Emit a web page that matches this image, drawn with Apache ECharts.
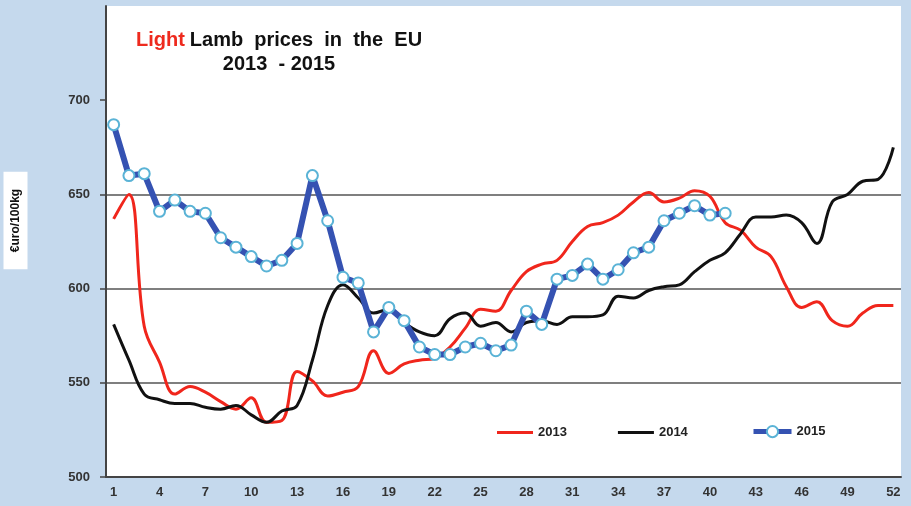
<!DOCTYPE html>
<html>
<head>
<meta charset="utf-8">
<script src="https://cdn.jsdelivr.net/npm/echarts@6/dist/echarts.min.js"></script>
<style>
  html, body { margin: 0; padding: 0; background: #c5d9ed; }
  #chart { width: 911px; height: 506px; }
</style>
</head>
<body>
<div id="chart"></div>
<script>
// weeks 1..52
var weeks = [];
for (var w = 1; w <= 52; w++) weeks.push(String(w));

var yTicks = [500, 550, 600, 650, 700];

var prices2013 = [637, 650, 580, 561, 544, 548, 545, 540, 536, 542, 529, 530,
  556, 551, 543, 545, 548, 567, 555, 560, 562, 563, 569, 579, 589, 588, 599,
  609, 613, 615, 625, 633, 635, 639, 646, 651, 646, 648, 652, 649, 635, 631,
  622, 617, 601, 590, 593, 583, 580, 587, 591, 591];

var prices2014 = [581, 562, 544, 541, 539, 539, 537, 536, 538, 533, 529, 535,
  538, 562, 591, 602, 595, 587, 589, 582, 577, 575, 584, 587, 580, 582, 577,
  582, 583, 581, 585, 585, 586, 596, 595, 599, 601, 602, 609, 615, 619, 629,
  638, 638, 639, 635, 624, 646, 650, 657, 658, 675];

var prices2015 = [687, 660, 661, 641, 647, 641, 640, 627, 622, 617, 612, 615,
  624, 660, 636, 606, 603, 577, 590, 583, 569, 565, 565, 569, 571, 567, 570,
  588, 581, 605, 607, 613, 605, 610, 619, 622, 636, 640, 644, 639, 640];

var myChart = echarts.init(document.getElementById('chart'));

var labelFont = { fontFamily: 'Liberation Sans', fontWeight: 'bold', fontSize: 13, color: '#333' };
var legendFont = { fontFamily: 'Liberation Sans', fontWeight: 'bold', fontSize: 13, color: '#222' };

option = {
    backgroundColor: '#c5d9ed',
    animation: false,
    title: {
        text: '{r|Light} {k|Lamb  prices  in  the  EU}\n{k|2013  - 2015}',
        left: 274,
        top: 23,
        textAlign: 'center',
        textStyle: {
            rich: {
                r: { color: '#ee2a1e', fontFamily: 'Liberation Sans', fontWeight: 'bold', fontSize: 20, lineHeight: 24 },
                k: { color: '#111', fontFamily: 'Liberation Sans', fontWeight: 'bold', fontSize: 20, lineHeight: 24 }
            }
        }
    },
    graphic: [
        {
            type: 'text',
            x: 15.5,
            y: 220.5,
            rotation: Math.PI / 2,
            style: {
                text: '€uro/100kg',
                fontFamily: 'Liberation Sans',
                fontWeight: 'bold',
                fontSize: 12,
                fill: '#111',
                align: 'center',
                verticalAlign: 'middle',
                backgroundColor: '#fff',
                padding: [6, 17]
            }
        }
    ],
    legend: [
        {
            left: 492,
            top: 421,
            icon: 'rect',
            itemWidth: 36,
            itemHeight: 3,
            itemGap: 51,
            textStyle: legendFont,
            data: ['2013', '2014']
        },
        {
            left: 746,
            top: 420,
            itemWidth: 38,
            itemHeight: 14,
            textStyle: legendFont,
            lineStyle: { width: 5 },
            data: ['2015']
        }
    ],
    grid: {
        left: 106,
        right: 10,
        top: 6,
        bottom: 29,
        show: true,
        backgroundColor: '#fff',
        borderWidth: 0
    },
    xAxis: {
        type: 'category',
        boundaryGap: true,
        data: weeks,
        axisLine: { lineStyle: { color: '#444', width: 2 } },
        axisTick: { interval: 0, length: 5, lineStyle: { color: '#444', width: 1.5 } },
        axisLabel: Object.assign({ interval: 2, margin: 9 }, labelFont),
        splitLine: { show: false }
    },
    yAxis: {
        type: 'value',
        min: 500,
        max: 750,
        interval: 50,
        axisLine: { show: true, lineStyle: { color: '#444', width: 2 } },
        axisTick: { show: true, length: 6, customValues: yTicks, lineStyle: { color: '#444', width: 1.5 } },
        axisLabel: Object.assign({ margin: 16, customValues: yTicks }, labelFont),
        splitLine: { show: true, showMaxLine: false, lineStyle: { color: '#555', width: 1.5 } }
    },
    series: [
        {
            name: '2013',
            type: 'line',
            data: prices2013,
            smooth: 0.4,
            symbol: 'none',
            lineStyle: { color: '#f0261c', width: 3 },
            itemStyle: { color: '#f0261c' }
        },
        {
            name: '2014',
            type: 'line',
            data: prices2014,
            smooth: 0.4,
            symbol: 'none',
            lineStyle: { color: '#111', width: 3 },
            itemStyle: { color: '#111' }
        },
        {
            name: '2015',
            type: 'line',
            data: prices2015,
            symbol: 'circle',
            symbolSize: 11,
            showAllSymbol: true,
            lineStyle: { color: '#3552b2', width: 6 },
            itemStyle: { color: '#fff', borderColor: '#5ab3d6', borderWidth: 2 }
        }
    ]
};

myChart.setOption(option);
</script>
</body>
</html>
